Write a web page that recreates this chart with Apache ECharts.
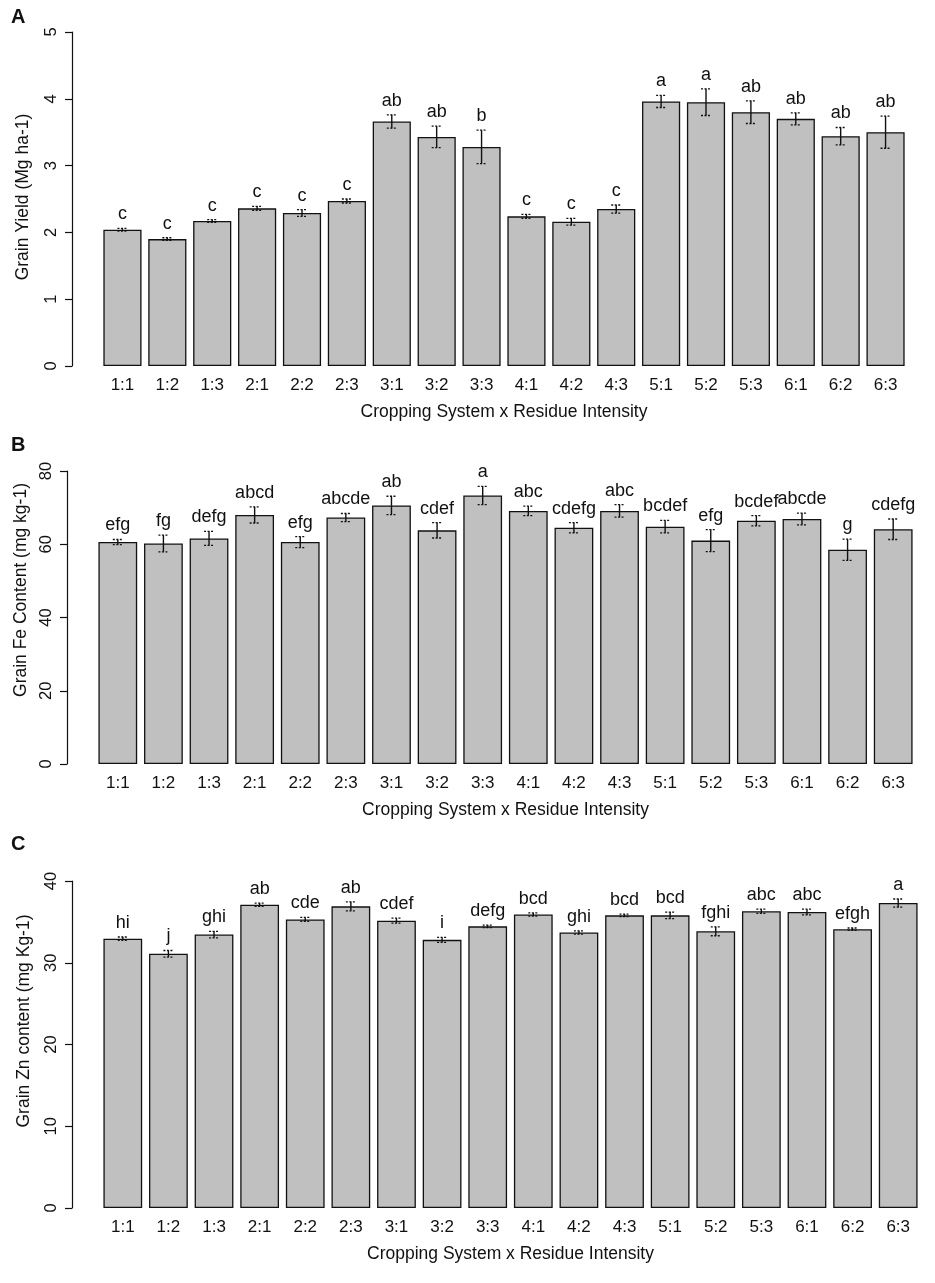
<!DOCTYPE html>
<html>
<head>
<meta charset="utf-8">
<script src="https://cdn.jsdelivr.net/npm/echarts@6/dist/echarts.min.js"></script>
<style>
  html, body { margin: 0; padding: 0; background: #fff; }
  #main { width: 935px; height: 1283px; }
</style>
</head>
<body>
<div id="main"></div>
<script>
var categories = ['1:1', '1:2', '1:3', '2:1', '2:2', '2:3', '3:1', '3:2', '3:3',
  '4:1', '4:2', '4:3', '5:1', '5:2', '5:3', '6:1', '6:2', '6:3'];

// A - grain yield
var yieldMean = [2.04, 1.90, 2.17, 2.36, 2.29, 2.47, 3.66, 3.43, 3.28, 2.24, 2.16, 2.35, 3.96, 3.95, 3.80, 3.70, 3.44, 3.50];
var yieldSe = [0.02, 0.02, 0.02, 0.03, 0.05, 0.03, 0.10, 0.16, 0.25, 0.03, 0.05, 0.06, 0.09, 0.20, 0.17, 0.09, 0.13, 0.24];
var yieldLetters = ['c', 'c', 'c', 'c', 'c', 'c', 'ab', 'ab', 'b', 'c', 'c', 'c', 'a', 'a', 'ab', 'ab', 'ab', 'ab'];

// B - grain Fe
var feMean = [60.6, 60.2, 61.6, 68.0, 60.6, 67.3, 70.6, 63.8, 73.3, 69.1, 64.5, 69.1, 64.8, 61.0, 66.4, 66.9, 58.5, 64.1];
var feSe = [0.7, 2.3, 1.9, 2.2, 1.5, 1.1, 2.5, 2.1, 2.5, 1.3, 1.4, 1.7, 1.7, 3.0, 1.4, 1.6, 2.9, 2.8];
var feLetters = ['efg', 'fg', 'defg', 'abcd', 'efg', 'abcde', 'ab', 'cdef', 'a', 'abc', 'cdefg', 'abc', 'bcdef', 'efg', 'bcdef', 'abcde', 'g', 'cdefg'];

// C - grain Zn
var znMean = [32.95, 31.1, 33.45, 37.1, 35.3, 36.9, 35.15, 32.8, 34.45, 35.9, 33.7, 35.8, 35.8, 33.85, 36.3, 36.2, 34.1, 37.3];
var znSe = [0.2, 0.4, 0.4, 0.2, 0.25, 0.55, 0.3, 0.3, 0.15, 0.2, 0.2, 0.15, 0.4, 0.55, 0.25, 0.35, 0.15, 0.5];
var znLetters = ['hi', 'j', 'ghi', 'ab', 'cde', 'ab', 'cdef', 'i', 'defg', 'bcd', 'ghi', 'bcd', 'bcd', 'fghi', 'abc', 'abc', 'efgh', 'a'];

var FONT = '"Liberation Sans", Arial, sans-serif';
var xTitle = 'Cropping System x Residue Intensity';

var chart = echarts.init(document.getElementById('main'));

var panels = [
  { mean: yieldMean, se: yieldSe, letters: yieldLetters, max: 5, interval: 1,
    grid: { left: 100, top: 32, width: 808, height: 334 } },
  { mean: feMean, se: feSe, letters: feLetters, max: 80, interval: 20,
    grid: { left: 95, top: 471, width: 821, height: 293 } },
  { mean: znMean, se: znSe, letters: znLetters, max: 40, interval: 10,
    grid: { left: 100, top: 881, width: 821, height: 327 } }
];

var grids = [], xAxes = [], yAxes = [], series = [];

panels.forEach(function (p, k) {
  grids.push(p.grid);
  xAxes.push({
    type: 'category',
    gridIndex: k,
    data: categories,
    axisLine: { show: false },
    axisTick: { show: false },
    axisLabel: { interval: 0, fontSize: 17, color: '#111', margin: 11, fontFamily: FONT },
    name: xTitle,
    nameLocation: 'middle',
    nameGap: 37,
    nameTextStyle: { fontSize: 17.5, color: '#111', fontFamily: FONT }
  });
  yAxes.push({
    type: 'value',
    gridIndex: k,
    min: 0,
    max: p.max,
    interval: p.interval,
    offset: 28,
    axisLine: { show: true, lineStyle: { color: '#111', width: 1.2 } },
    axisTick: { show: true, length: 7, lineStyle: { color: '#111', width: 1.2 } },
    axisLabel: { rotate: 90, fontSize: 16.5, color: '#111', margin: 12, fontFamily: FONT },
    splitLine: { show: false }
  });
  series.push({
    type: 'bar',
    xAxisIndex: k,
    yAxisIndex: k,
    data: p.mean,
    barCategoryGap: '15%',
    z: 2,
    itemStyle: { color: '#C0C0C0', borderColor: '#111', borderWidth: 1.3 },
    silent: true
  });
  series.push({
    type: 'custom',
    xAxisIndex: k,
    yAxisIndex: k,
    z: 5,
    data: p.mean.map(function (m, i) { return [i, m, p.se[i]]; }),
    encode: { x: 0, y: 1 },
    silent: true,
    renderItem: function (params, api) {
      var i = api.value(0), m = api.value(1), s = api.value(2);
      var hi = api.coord([i, m + s]);
      var lo = api.coord([i, m - s]);
      var cap = 5;
      var capStyle = { stroke: '#111', lineWidth: 1.3, lineDash: [2, 1.5] };
      return {
        type: 'group',
        children: [
          { type: 'line', z2: 10, shape: { x1: hi[0], y1: hi[1], x2: lo[0], y2: lo[1] },
            style: { stroke: '#111', lineWidth: 1.4 } },
          { type: 'line', z2: 10, shape: { x1: hi[0] - cap, y1: hi[1], x2: hi[0] + cap, y2: hi[1] },
            style: capStyle },
          { type: 'line', z2: 10, shape: { x1: lo[0] - cap, y1: lo[1], x2: lo[0] + cap, y2: lo[1] },
            style: capStyle },
          { type: 'text', z2: 10,
            style: { text: p.letters[params.dataIndex], x: hi[0], y: hi[1] - 5,
              align: 'center', verticalAlign: 'bottom',
              fontSize: 18, fill: '#111', fontFamily: FONT } }
        ]
      };
    }
  });
});

var yTitles = [
  { text: 'Grain Yield (Mg ha-1)', x: 23, y: 197 },
  { text: 'Grain Fe Content (mg kg-1)', x: 21, y: 590 },
  { text: 'Grain Zn content (mg Kg-1)', x: 24, y: 1021 }
];

var option = {
  backgroundColor: '#fff',
  animation: false,
  title: [
    { text: 'A', left: 6, top: 2, textStyle: { fontSize: 20, fontWeight: 'bold', color: '#111', fontFamily: FONT } },
    { text: 'B', left: 6, top: 430, textStyle: { fontSize: 20, fontWeight: 'bold', color: '#111', fontFamily: FONT } },
    { text: 'C', left: 6, top: 829, textStyle: { fontSize: 20, fontWeight: 'bold', color: '#111', fontFamily: FONT } }
  ],
  grid: grids,
  xAxis: xAxes,
  yAxis: yAxes,
  series: series,
  graphic: yTitles.map(function (t) {
    return {
      type: 'text',
      x: t.x,
      y: t.y,
      rotation: Math.PI / 2,
      style: { text: t.text, fontSize: 17.5, fill: '#111', fontFamily: FONT,
        align: 'center', verticalAlign: 'middle' }
    };
  })
};

chart.setOption(option);
</script>
</body>
</html>
